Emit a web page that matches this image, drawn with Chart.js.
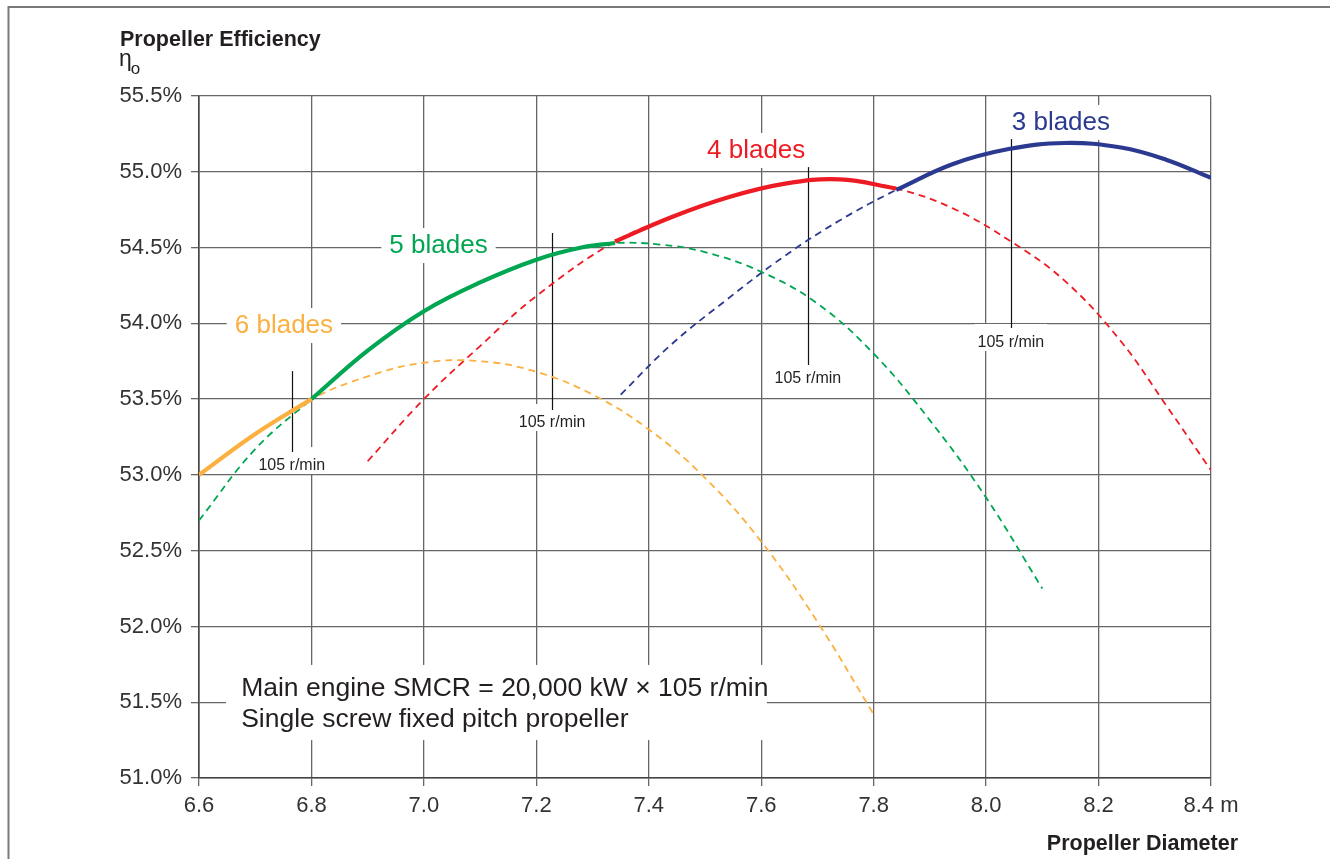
<!DOCTYPE html>
<html><head><meta charset="utf-8">
<script src="https://cdn.jsdelivr.net/npm/chart.js@4.4.0/dist/chart.umd.min.js"></script>
<style>html,body{margin:0;padding:0;background:#fff;}canvas{display:block;}</style>
</head><body>
<canvas id="c" width="1330" height="859"></canvas>
<script>
// ---- data ----
const diam6 = [6.6, 6.7, 6.8, 6.9, 7.0, 7.1, 7.2, 7.3, 7.4, 7.5, 7.6, 7.7, 7.8];
const eff6  = [53.00, 53.27, 53.50, 53.65, 53.74, 53.75, 53.68, 53.53, 53.30, 52.98, 52.56, 52.03, 51.42];
const diam5 = [6.6, 6.7, 6.8, 6.9, 7.0, 7.1, 7.2, 7.28, 7.34, 7.42, 7.5, 7.6, 7.7, 7.8, 7.9, 8.0, 8.1];
const eff5  = [52.70, 53.17, 53.50, 53.82, 54.08, 54.27, 54.42, 54.50, 54.53, 54.52, 54.47, 54.34, 54.13, 53.80, 53.36, 52.85, 52.25];
const diam4 = [6.9, 7.0, 7.1, 7.2, 7.34, 7.44, 7.54, 7.64, 7.74, 7.84, 7.94, 8.04, 8.14, 8.24, 8.32, 8.4];
const eff4  = [53.09, 53.50, 53.85, 54.18, 54.54, 54.70, 54.83, 54.92, 54.95, 54.89, 54.76, 54.55, 54.28, 53.88, 53.46, 53.03];
const diam3 = [7.35, 7.44, 7.54, 7.64, 7.74, 7.84, 7.94, 8.04, 8.14, 8.24, 8.32, 8.4];
const eff3  = [53.53, 53.86, 54.16, 54.44, 54.68, 54.88, 55.05, 55.15, 55.19, 55.16, 55.08, 54.96];
// range of each curve that is drawn solid (optimum blade-count zone)
const solid6 = [6.6, 6.8];
const solid5 = [6.8, 7.34];
const solid4 = [7.34, 7.84];
const solid3 = [7.84, 8.4];
const bladeNames = ['6 blades', '5 blades', '4 blades', '3 blades'];
// optimum diameters at 105 r/min
const rpmDiam = [6.765, 7.228, 7.683, 8.044];
const rpmText = '105 r/min';
const xTickValues = [6.6, 6.8, 7.0, 7.2, 7.4, 7.6, 7.8, 8.0, 8.2, 8.4];
const xTickLabels = ['6.6', '6.8', '7.0', '7.2', '7.4', '7.6', '7.8', '8.0', '8.2', '8.4 m'];
const yTickValues = [51.0, 51.5, 52.0, 52.5, 53.0, 53.5, 54.0, 54.5, 55.0, 55.5];
const yTickLabels = ['51.0%', '51.5%', '52.0%', '52.5%', '53.0%', '53.5%', '54.0%', '54.5%', '55.0%', '55.5%'];
const noteLines = ['Main engine SMCR = 20,000 kW \u00d7 105 r/min', 'Single screw fixed pitch propeller'];

// ---- styling / layout ----
const COLORS = ['#FBB040', '#00A651', '#ED1C24', '#2B3990'];
const TEXT = '#231f20';
const FONT = '"Liberation Sans", Arial, sans-serif';

function pts(xs, ys, lo, hi) {
  const out = [];
  xs.forEach((x, i) => { if (lo === undefined || (x >= lo - 1e-9 && x <= hi + 1e-9)) out.push({x: x, y: ys[i]}); });
  return out;
}
const series = [
  [diam6, eff6, solid6], [diam5, eff5, solid5], [diam4, eff4, solid4], [diam3, eff3, solid3]
];
const datasets = [];
series.forEach((s, i) => {
  datasets.push({ label: bladeNames[i] + ' (optimum)', data: pts(s[0], s[1], s[2][0], s[2][1]),
    borderColor: COLORS[i], borderWidth: 4.2, pointRadius: 0, tension: 0.4, borderCapStyle: 'butt', order: 0 });
});
series.forEach((s, i) => {
  datasets.push({ label: bladeNames[i], data: pts(s[0], s[1]),
    borderColor: COLORS[i], borderWidth: 1.8, borderDash: [7, 5], pointRadius: 0, tension: 0.4, borderCapStyle: 'butt', order: 1 });
});

// annotation placement (data coordinates)
const bladeLabelPos = [{d: 6.751, v: 53.936}, {d: 7.026, v: 54.464}, {d: 7.591, v: 55.091}, {d: 8.133, v: 55.276}];
const rpmLine = [{top: 53.685, bot: 53.151, lab: 53.032}, {top: 54.596, bot: 53.428, lab: 53.316},
                 {top: 55.031, bot: 53.725, lab: 53.606}, {top: 55.216, bot: 53.969, lab: 53.844}];
const noteBox = {d0: 6.648, d1: 7.610, v0: 51.746, v1: 51.25, tx: 6.675, b1: 51.541, b2: 51.336};

const annot = {
  id: 'annot',
  beforeDatasetsDraw(chart) {
    const ctx = chart.ctx, xs = chart.scales.x, ys = chart.scales.y;
    ctx.save();
    ctx.fillStyle = '#fff';
    const nx0 = xs.getPixelForValue(noteBox.d0), nx1 = xs.getPixelForValue(noteBox.d1);
    const ny0 = ys.getPixelForValue(noteBox.v0), ny1 = ys.getPixelForValue(noteBox.v1);
    ctx.fillRect(nx0, ny0, nx1 - nx0, ny1 - ny0);
    ctx.font = '26px ' + FONT;
    bladeNames.forEach((t, i) => {
      const w = ctx.measureText(t).width;
      const cx = xs.getPixelForValue(bladeLabelPos[i].d), by = ys.getPixelForValue(bladeLabelPos[i].v);
      ctx.fillRect(cx - w / 2 - 8, by - 25, w + 16, 35);
    });
    ctx.font = '16px ' + FONT;
    const rw = ctx.measureText(rpmText).width;
    rpmDiam.forEach((d, i) => {
      const cx = xs.getPixelForValue(d), by = ys.getPixelForValue(rpmLine[i].lab);
      ctx.fillRect(cx - rw / 2 - 3, by - 23, rw + 6, 27);
    });
    ctx.strokeStyle = '#111';
    ctx.lineWidth = 1.2;
    rpmDiam.forEach((d, i) => {
      const x = Math.round(xs.getPixelForValue(d)) + 0.5;
      ctx.beginPath();
      ctx.moveTo(x, ys.getPixelForValue(rpmLine[i].top));
      ctx.lineTo(x, ys.getPixelForValue(rpmLine[i].bot));
      ctx.stroke();
    });
    ctx.restore();
  },
  afterDatasetsDraw(chart) {
    const ctx = chart.ctx, xs = chart.scales.x, ys = chart.scales.y;
    ctx.save();
    ctx.textBaseline = 'alphabetic';
    ctx.textAlign = 'center';
    ctx.font = '26px ' + FONT;
    bladeNames.forEach((t, i) => {
      ctx.fillStyle = COLORS[i];
      ctx.fillText(t, xs.getPixelForValue(bladeLabelPos[i].d), ys.getPixelForValue(bladeLabelPos[i].v));
    });
    ctx.fillStyle = TEXT;
    ctx.font = '16px ' + FONT;
    rpmDiam.forEach((d, i) => {
      ctx.fillText(rpmText, xs.getPixelForValue(d), ys.getPixelForValue(rpmLine[i].lab));
    });
    ctx.textAlign = 'left';
    ctx.font = '26.5px ' + FONT;
    ctx.fillText(noteLines[0], xs.getPixelForValue(noteBox.tx), ys.getPixelForValue(noteBox.b1));
    ctx.fillText(noteLines[1], xs.getPixelForValue(noteBox.tx), ys.getPixelForValue(noteBox.b2));
    ctx.restore();
  },
  afterDraw(chart) {
    const ctx = chart.ctx;
    ctx.save();
    ctx.strokeStyle = '#7a7a7a';
    ctx.lineWidth = 2;
    ctx.beginPath();
    ctx.moveTo(8.5, 860); ctx.lineTo(8.5, 7); ctx.lineTo(1331, 7);
    ctx.stroke();
    ctx.fillStyle = TEXT;
    ctx.textBaseline = 'alphabetic';
    ctx.textAlign = 'left';
    ctx.font = 'bold 21.5px ' + FONT;
    ctx.fillText('Propeller Efficiency', 120, 46);
    ctx.font = '23px ' + FONT;
    ctx.fillText('\u03b7', 119, 66);
    const ew = ctx.measureText('\u03b7').width;
    ctx.font = '17px ' + FONT;
    ctx.fillText('o', 119 + ew - 1, 74);
    ctx.textAlign = 'right';
    ctx.font = 'bold 21.5px ' + FONT;
    ctx.fillText('Propeller Diameter', 1238, 850);
    ctx.restore();
  }
};

new Chart(document.getElementById('c'), {
  type: 'line',
  data: { datasets: datasets },
  options: {
    responsive: false,
    animation: false,
    devicePixelRatio: 1,
    layout: { autoPadding: false, padding: { left: 0, top: 96, right: 119, bottom: 0 } },
    plugins: { legend: { display: false }, tooltip: { enabled: false } },
    scales: {
      x: {
        type: 'linear', min: 6.6, max: 8.4,
        afterBuildTicks: (s) => { s.ticks = xTickValues.map(v => ({ value: v })); },
        afterFit: (s) => { s.height = 81; },
        ticks: { callback: (v, i) => xTickLabels[i], color: '#333', font: { family: FONT, size: 22 }, padding: 7, maxRotation: 0, autoSkip: false },
        grid: { color: '#666', lineWidth: 1.3, tickLength: 8, drawTicks: true },
        border: { display: true, color: '#444', width: 1.6 }
      },
      y: {
        type: 'linear', min: 51.0, max: 55.5,
        afterBuildTicks: (s) => { s.ticks = yTickValues.map(v => ({ value: v })); },
        afterFit: (s) => { s.width = 199; },
        ticks: { callback: (v, i) => yTickLabels[i], color: '#333', font: { family: FONT, size: 22 }, padding: 9, autoSkip: false },
        grid: { color: '#666', lineWidth: 1.3, tickLength: 8, drawTicks: true },
        border: { display: true, color: '#444', width: 1.6 }
      }
    }
  },
  plugins: [annot]
});
</script>
</body></html>
